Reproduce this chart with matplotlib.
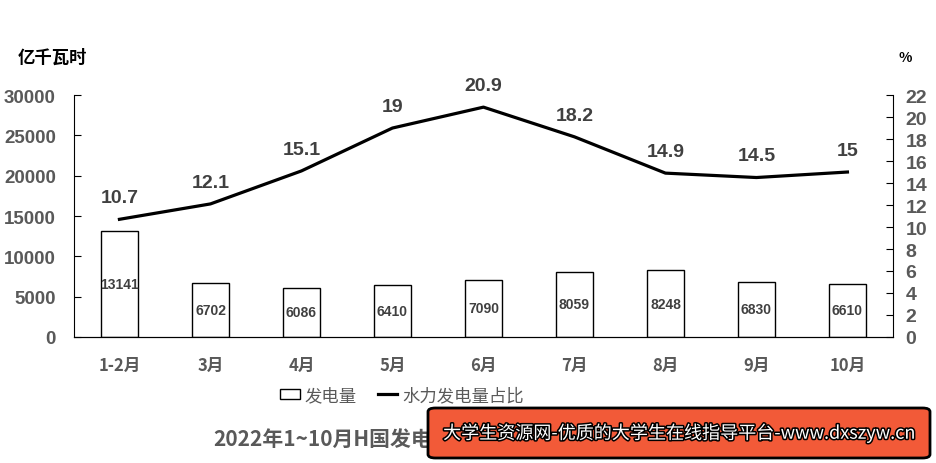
import numpy as np
import matplotlib.pyplot as plt
from matplotlib.patches import FancyBboxPatch
import matplotlib.patheffects as pe

plt.rcParams['font.family'] = ['Noto Sans CJK SC', 'DejaVu Sans']

months = ["1-2月", "3月", "4月", "5月", "6月", "7月", "8月", "9月", "10月"]
power = [13141, 6702, 6086, 6410, 7090, 8059, 8248, 6830, 6610]
hydro_share = [10.7, 12.1, 15.1, 19, 20.9, 18.2, 14.9, 14.5, 15]

gray = "#595959"
num_font = "Liberation Sans"

fig = plt.figure(figsize=(9.36, 4.64), dpi=100)
ax = fig.add_axes([0.079, 0.2716, 0.875, 0.5214])
x = np.arange(len(months))

bars = ax.bar(x, power, width=0.4, color="white", edgecolor="black", linewidth=1.0, label="发电量")
for xi, v in zip(x, power):
    ax.text(xi, v / 2, str(v), ha="center", va="center", fontsize=10,
            fontweight="bold", color="#404040", family=num_font)

ax.set_xlim(-0.5, len(months) - 0.5)
ax.set_ylim(0, 30000)
ax.set_yticks(range(0, 30001, 5000))
ax.set_xticks(x)
ax.set_xticklabels(months, fontsize=12, fontweight="bold", color=gray)
ax.tick_params(axis="x", length=0, pad=14)
ax.tick_params(axis="y", direction="in", length=5, labelsize=13.5, labelcolor=gray, pad=13)
for lab in ax.get_yticklabels():
    lab.set_fontweight("bold")
    lab.set_family(num_font)
ax.spines["top"].set_visible(False)
ax.spines["right"].set_visible(False)

ax2 = ax.twinx()
line, = ax2.plot(x, hydro_share, color="black", linewidth=2.3, label="水力发电量占比")
for xi, v in zip(x, hydro_share):
    ax2.text(xi, v + 1.2, f"{v:g}", ha="center", va="bottom", fontsize=14,
             fontweight="bold", color="#404040", family=num_font)
ax2.set_ylim(0, 22)
ax2.set_yticks(range(0, 23, 2))
ax2.tick_params(axis="y", direction="in", length=5, labelsize=14, labelcolor=gray, pad=9)
for lab in ax2.get_yticklabels():
    lab.set_family(num_font)
    lab.set_fontweight("bold")
ax2.spines["top"].set_visible(False)
ax2.spines["left"].set_visible(False)

fig.text(18 / 936, 1 - 58 / 464, "亿千瓦时", fontsize=12.5, va="center", ha="left",
         color="black", fontweight="bold")
fig.text(905 / 936, 1 - 58 / 464, "%", fontsize=10, va="center", ha="center",
         fontweight="bold", color="black")

fig.legend(handles=[bars, line], loc="center", bbox_to_anchor=(402 / 936, 1 - 396 / 464),
           ncol=2, frameon=False, fontsize=12.5, handlelength=1.1, handleheight=0.5,
           columnspacing=1.2, handletextpad=0.3, labelcolor=gray)

fig.text(213 / 936, 1 - 440 / 464, "2022年1~10月H国发电量及水力发电量占比", fontsize=15,
         fontweight="bold", color=gray, va="center", ha="left")

# watermark box
box = FancyBboxPatch((428 / 936, 1 - 459 / 464), 502 / 936, 50 / 464,
                     boxstyle="round,pad=0,rounding_size=0.008", transform=fig.transFigure,
                     facecolor="#F25A38", edgecolor="black", linewidth=2.0, zorder=10)
fig.patches.append(box)
fig.text(679 / 936, 1 - 434 / 464, "大学生资源网-优质的大学生在线指导平台-www.dxszyw.cn",
         fontsize=13, color="white", ha="center", va="center", zorder=11,
         path_effects=[pe.withStroke(linewidth=2.2, foreground="black")])

fig.savefig("out.png", dpi=100)
